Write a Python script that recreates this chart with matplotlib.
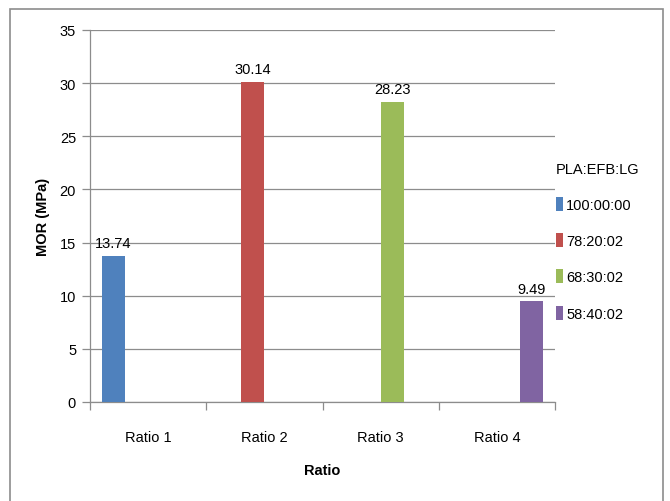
import numpy as np
import matplotlib
matplotlib.use('Agg')
import matplotlib.pyplot as plt
from matplotlib.patches import Rectangle

plt.rcParams['font.family'] = ['Liberation Sans Narrow', 'Liberation Sans', 'DejaVu Sans']

# data
categories = ['Ratio 1', 'Ratio 2', 'Ratio 3', 'Ratio 4']
series_names = ['100:00:00', '78:20:02', '68:30:02', '58:40:02']
series_values = [
    [13.74, 0, 0, 0],
    [0, 30.14, 0, 0],
    [0, 0, 28.23, 0],
    [0, 0, 0, 9.49],
]
colors = ['#4F81BD', '#C0504D', '#9BBB59', '#8064A2']
yticks = [0, 5, 10, 15, 20, 25, 30, 35]

fig = plt.figure(figsize=(6.7, 5.02), dpi=100)
ax = fig.add_axes([90 / 670, 1 - 403 / 502, 465 / 670, 372 / 502])

x = np.arange(len(categories))
w = 0.198
for j, (name, vals) in enumerate(zip(series_names, series_values)):
    off = -2 * w + w * (j + 0.5)
    bars = ax.bar(x + off, vals, w, color=colors[j], label=name, zorder=3)
    labels = ['%.2f' % v if v else '' for v in vals]
    ax.bar_label(bars, labels=labels, padding=4, fontsize=10.5)

grid_c = '#8c8c8c'
ax.set_ylim(0, 35)
ax.set_xlim(-0.5, 3.5)
ax.set_yticks(yticks)
ax.yaxis.grid(True, color=grid_c, lw=0.9, zorder=0)
ax.set_xticks(x)
ax.set_xticklabels(categories, fontsize=10.5)
ax.set_xticks(np.arange(-0.5, 4, 1), minor=True)
ax.tick_params(axis='x', which='major', length=0, pad=20)
ax.tick_params(axis='x', which='minor', length=6, color=grid_c, width=0.9)
ax.tick_params(axis='y', length=6, color=grid_c, width=0.9, labelsize=10.5, pad=4)
for s in ['top', 'right']:
    ax.spines[s].set_visible(False)
for s in ['left', 'bottom']:
    ax.spines[s].set_color(grid_c)
    ax.spines[s].set_linewidth(0.9)

ax.set_xlabel('Ratio', fontsize=10.5, fontweight='bold', labelpad=14)
ax.set_ylabel('MOR (MPa)', fontsize=10.5, fontweight='bold', labelpad=7)

leg = fig.legend(loc='upper left', bbox_to_anchor=(543 / 670, 1 - 150 / 502),
                 title='PLA:EFB:LG', frameon=False, fontsize=10.5, title_fontsize=10.5,
                 labelspacing=1.45, handlelength=0.45, handleheight=1.1,
                 handletextpad=0.25, alignment='left')

# outer border
fig.patches.append(Rectangle((10 / 670, -0.1), 653 / 670, 1.1 - 10 / 502,
                             transform=fig.transFigure, fill=False,
                             edgecolor='#8c8c8c', lw=1.2))

fig.savefig('out.png', dpi=100)
